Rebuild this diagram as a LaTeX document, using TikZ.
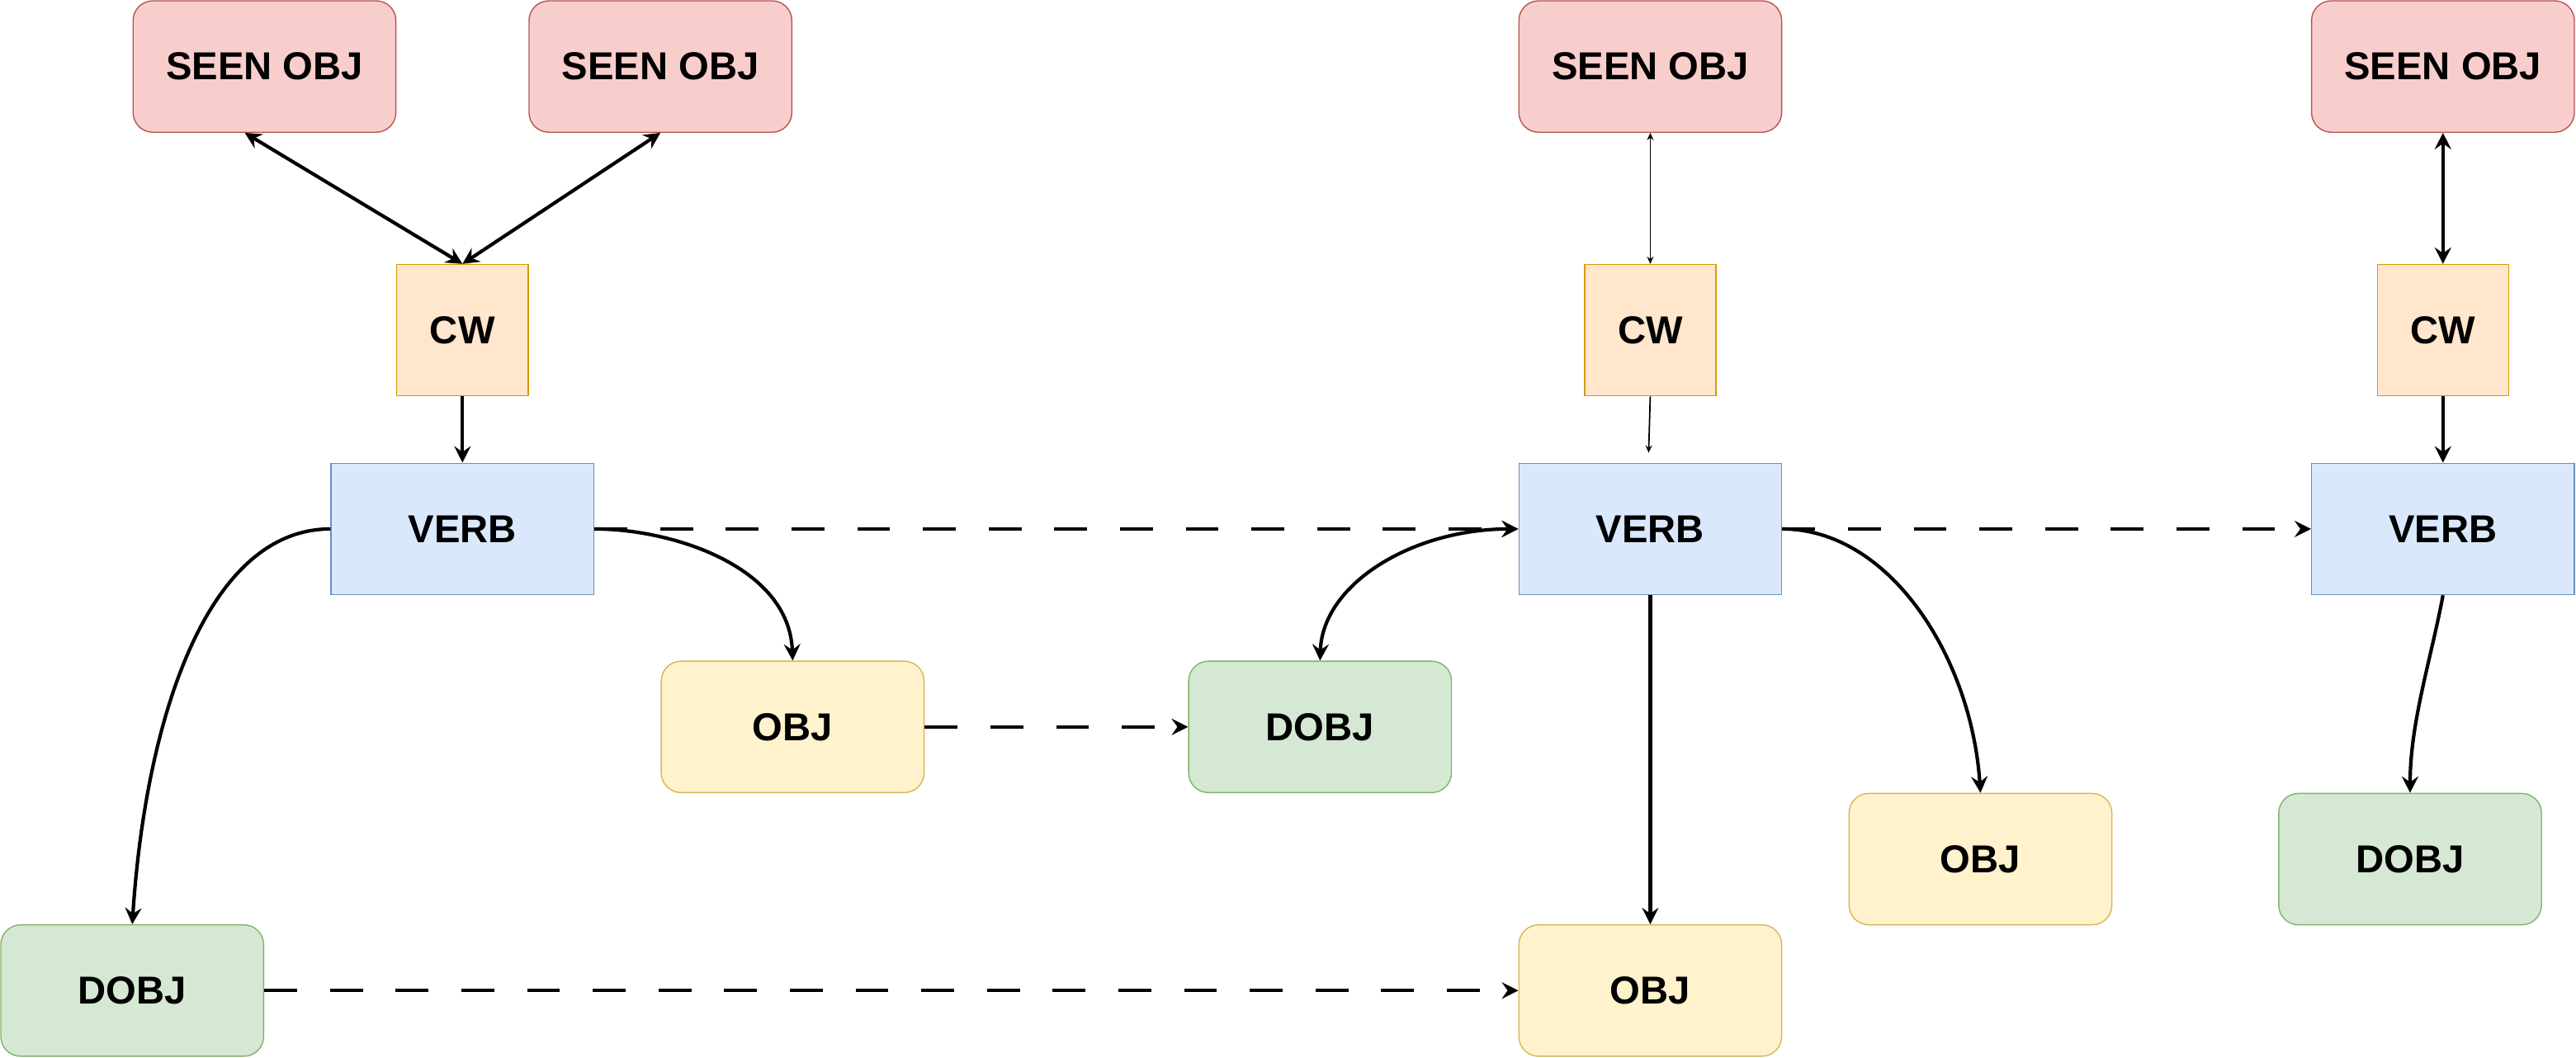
\documentclass[tikz,border=0pt]{standalone}
\usepackage{fontspec}
\setmainfont{Liberation Sans}
\usetikzlibrary{arrows.meta}

\definecolor{seenfill}{HTML}{F8CECC}
\definecolor{seenline}{HTML}{B85450}
\definecolor{cwfill}{HTML}{FFE6CC}
\definecolor{cwline}{HTML}{D79B00}
\definecolor{verbfill}{HTML}{DAE8FC}
\definecolor{verbline}{HTML}{6C8EBF}
\definecolor{objfill}{HTML}{FFF2CC}
\definecolor{objline}{HTML}{D6B656}
\definecolor{dobjfill}{HTML}{D5E8D4}
\definecolor{dobjline}{HTML}{82B366}

\begin{document}
\begin{tikzpicture}[x=0.02cm, y=-0.02cm,
    box/.style={rectangle, draw, line width=0.4pt, minimum width=3.2cm, minimum height=1.6cm, inner sep=0pt, font=\bfseries\fontsize{13.5}{16}\selectfont},
    seennode/.style={box, rounded corners=0.24cm, fill=seenfill, draw=seenline},
    cwnode/.style={box, minimum width=1.6cm, fill=cwfill, draw=cwline},
    verbnode/.style={box, fill=verbfill, draw=verbline},
    objnode/.style={box, rounded corners=0.24cm, fill=objfill, draw=objline},
    dobjnode/.style={box, rounded corners=0.24cm, fill=dobjfill, draw=dobjline},
    ptr/.style={->, >={Stealth[length=0.2cm,width=0.2cm,inset=0.07cm]}, line width=1.2pt},
    biptr/.style={ptr, <->},
    dashptr/.style={ptr, dash pattern=on 0.4cm off 0.4cm},
    thinptr/.style={->, >={Stealth[length=0.09cm,width=0.08cm,inset=0.03cm]}, line width=0.5pt}
]
    \useasboundingbox (0,0) rectangle (1568,643.6);

    % first sentence
    \node[seennode] (seenA) at (161,40.5) {SEEN OBJ};
    \node[seennode] (seenB) at (402,40.5) {SEEN OBJ};
    \node[cwnode] (cwA) at (281.5,201) {CW};
    \node[verbnode] (verbA) at (281.5,322) {VERB};
    \node[objnode] (objA) at (482.5,442.5) {OBJ};
    \node[dobjnode] (dobjA) at (80.5,603) {DOBJ};

    % second sentence
    \node[seennode] (seenC) at (1004.5,40.5) {SEEN OBJ};
    \node[cwnode] (cwB) at (1004.5,201) {CW};
    \node[verbnode] (verbB) at (1004.5,322) {VERB};
    \node[dobjnode] (dobjB) at (803.5,442.5) {DOBJ};
    \node[objnode] (objB) at (1004.5,603) {OBJ};
    \node[objnode] (objC) at (1205.5,523) {OBJ};

    % third sentence
    \node[seennode] (seenD) at (1487,40.5) {SEEN OBJ};
    \node[cwnode] (cwC) at (1487,201) {CW};
    \node[verbnode] (verbC) at (1487,322) {VERB};
    \node[dobjnode] (dobjC) at (1467,523) {DOBJ};

    \draw[biptr] ([xshift=-0.24cm]seenA.south) -- (cwA.north);
    \draw[biptr] (seenB.south) -- (cwA.north);
    \draw[ptr] (cwA) -- (verbA);
    \draw[ptr] (verbA.west) .. controls +(-76,0) and +(8,-123) .. (dobjA.north);
    \draw[ptr] (verbA.east) .. controls +(48,0) and +(-2,-57) .. (objA.north);

    \draw[thinptr, <->] (seenC.south) -- (cwB.north);
    \draw[thinptr] (cwB.south) -- ([xshift=-0.02cm,yshift=0.12cm]verbB.north);
    \draw[biptr] (verbB.west) .. controls +(-64,0) and +(1.5,-47) .. (dobjB.north);
    \draw[ptr] (verbB) -- (objB);
    \draw[ptr] (verbB.east) .. controls +(65,0) and +(-5.5,-83) .. (objC.north);

    \draw[biptr] (seenD) -- (cwC);
    \draw[ptr] (cwC) -- (verbC);
    \draw[ptr] (verbC.south) .. controls +(-7,38) and +(0,-43) .. (dobjC.north);

    \draw[dashptr] (verbA) -- (verbB);
    \draw[dashptr] (objA) -- (dobjB);
    \draw[dashptr] (dobjA) -- (objB);
    \draw[dashptr] (verbB) -- (verbC);
\end{tikzpicture}
\end{document}
